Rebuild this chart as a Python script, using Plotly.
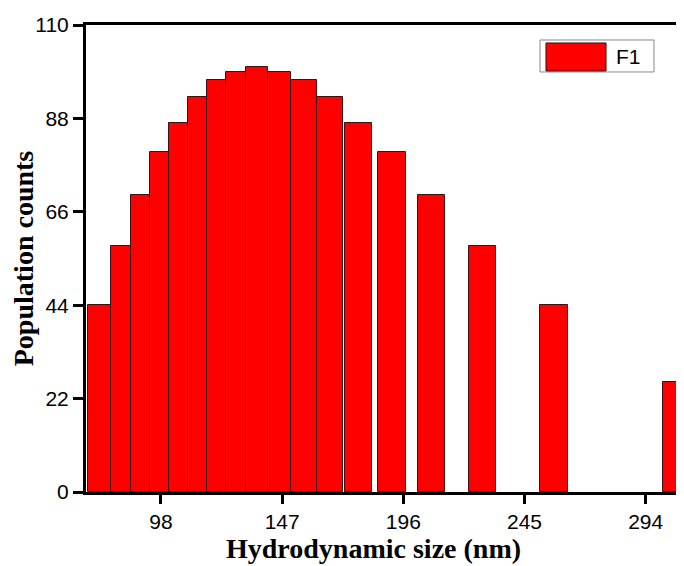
import plotly.graph_objects as go

# ---- data ----
sizes_nm = [73.0, 81.7, 89.7, 97.5, 105.1, 112.6, 120.4, 128.4, 136.8, 145.8,
            155.7, 166.3, 177.8, 191.3, 207.5, 228.0, 256.9, 306.6]
counts = [44, 58, 70, 80, 87, 93, 97, 99, 100, 99,
          97, 93, 87, 80, 70, 58, 44, 26]
x_ticks = [98, 147, 196, 245, 294]
y_ticks = [0, 22, 44, 66, 88, 110]
series_name = "F1"

# bar widths (style, in axis units)
bar_widths = [9.3, 8.09, 7.80, 7.80, 7.44, 7.68, 7.80, 8.21, 8.65, 9.30,
              10.51, 10.63, 10.92, 11.2, 10.92, 10.92, 11.32, 11.32]

fig = go.Figure()
fig.add_trace(go.Bar(
    x=sizes_nm, y=counts, width=bar_widths, name=series_name,
    marker=dict(color="#FF0000", line=dict(color="#3a1010", width=1)),
    showlegend=False,
))

axis_font = dict(family="Liberation Sans, Arial", size=21, color="black")
title_font = dict(family="Liberation Serif, Times New Roman", size=28, color="black")

# page body has an 8px margin: figure is 8px smaller so it fills the window
fig.update_layout(
    width=676, height=558,
    margin=dict(l=78, r=0, t=17, b=74, pad=0),
    paper_bgcolor="white", plot_bgcolor="white",
    bargap=0,
    xaxis=dict(
        range=[67.68, 309.5], tickvals=x_ticks, ticktext=[str(v) for v in x_ticks],
        showgrid=False, zeroline=False, showline=True, linecolor="black", linewidth=3,
        mirror=True, ticks="outside", ticklen=9, tickwidth=3, tickcolor="black",
        tickfont=axis_font,
    ),
    yaxis=dict(
        range=[0, 110], tickvals=y_ticks, ticktext=[str(v) for v in y_ticks],
        showgrid=False, zeroline=False, showline=True, linecolor="black", linewidth=3,
        mirror=False, ticks="outside", ticklen=10, tickwidth=3, tickcolor="black",
        tickfont=axis_font,
    ),
    annotations=[
        dict(text="<b>Hydrodynamic size (nm)</b>", xref="paper", yref="paper",
             x=0.4816, y=-0.1220, xanchor="center", yanchor="middle",
             showarrow=False, font=title_font),
        dict(text="<b>Population counts</b>", xref="paper", yref="paper",
             x=-0.1050, y=0.501, xanchor="center", yanchor="middle",
             textangle=-90, showarrow=False, font=title_font),
        dict(text=series_name, xref="paper", yref="paper",
             x=0.8829, y=0.9325, xanchor="left", yanchor="middle",
             showarrow=False, font=axis_font),
    ],
    shapes=[
        dict(type="rect", xref="paper", yref="paper", x0=0.7592, x1=0.9498,
             y0=0.8994, y1=0.9679, line=dict(color="#888888", width=1),
             fillcolor="white", layer="above"),
        dict(type="rect", xref="paper", yref="paper", x0=0.7692, x1=0.8696,
             y0=0.9015, y1=0.9615, line=dict(color="#3a1010", width=1),
             fillcolor="#FF0000", layer="above"),
    ],
)

fig.write_html("out.html")
